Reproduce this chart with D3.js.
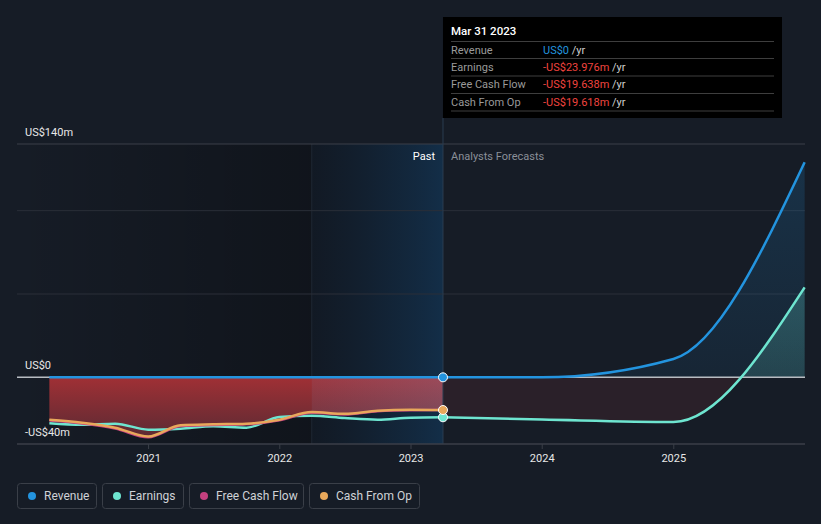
<!DOCTYPE html>
<html><head><meta charset="utf-8">
<script src="https://cdn.jsdelivr.net/npm/d3@7"></script>
<style>
html,body{margin:0;padding:0;background:#161c26;}
svg{display:block;font-family:Roboto,"Noto Sans",sans-serif;}
</style></head>
<body>
<svg id="c" width="821" height="524"></svg>
<script>
// ---- data ----
const pastDates = ["2020-03-31","2020-06-30","2020-09-30","2020-12-31","2021-03-31","2021-06-30","2021-09-30","2021-12-31","2022-03-31","2022-06-30","2022-09-30","2022-12-31","2023-03-31"];
const pastRevenue = [0,0,0,0,0,0,0,0,0,0,0,0,0];
const pastEarnings = [-27.5,-28.4,-27.8,-31.4,-30.8,-29.4,-30.2,-23.8,-23.0,-24.4,-25.4,-24.2,-23.976];
const pastFCF = [-25.9,-27.7,-30.7,-36.0,-29.2,-28.6,-28.2,-25.8,-21.2,-22.3,-20.3,-19.7,-19.638];
const pastCFO = [-25.4,-27.2,-30.2,-35.5,-28.8,-28.2,-27.8,-25.4,-20.8,-21.9,-20.0,-19.4,-19.618];
const fcDates = ["2023-03-31","2023-12-31","2024-12-31","2025-12-31"];
const fcRevenue = [0,0,11,129];
const fcEarnings = [-23.976,-25.3,-26.8,54];
const yTicks = [140,0,-40];
const yTickLabels = ["US$140m","US$0","-US$40m"];
const gridValues = [140,100,50,0,-40];
const xTickYears = [2021,2022,2023,2024,2025];
const seriesNames = ["Revenue","Earnings","Free Cash Flow","Cash From Op"];
const seriesColors = ["#2394df","#6ee5d0","#c4407f","#e8a85b"];
const tipTitle = "Mar 31 2023";
const tipValues = ["US$0","-US$23.976m","-US$19.638m","-US$19.618m"];

// ---- layout ----
const svg = d3.select("#c");
const parse = d3.timeParse("%Y-%m-%d");
const X0 = 17, X1 = 805, YT = 144, YB = 444;
const x = d3.scaleTime().domain([new Date(2020,0,1), new Date(2026,0,1)]).range([X0, X1]);
const y = d3.scaleLinear().domain([-40,140]).range([YB, YT]);
const past = pastDates.map((d,i)=>({d:parse(d),rev:pastRevenue[i],earn:pastEarnings[i],fcf:pastFCF[i],cfo:pastCFO[i]}));
const fc = fcDates.map((d,i)=>({d:parse(d),rev:fcRevenue[i],earn:fcEarnings[i]}));
const xNow = x(parse("2023-03-31"));
const xHl = x(parse("2022-03-31"));

const defs = svg.append("defs");
function lg(id, stops, x1,y1,x2,y2){
  const g = defs.append("linearGradient").attr("id",id).attr("x1",x1).attr("y1",y1).attr("x2",x2).attr("y2",y2);
  stops.forEach(s=>g.append("stop").attr("offset",s[0]).attr("stop-color",s[1]).attr("stop-opacity",s[2]));
}
lg("dark",[["0%","#000",0],["100%","#000",0.28]],"0","0","1","0");
lg("hl",[["0%","#0a1420",0.35],["100%","#10406a",0.5]],"0","0","1","0");
lg("hlo",[["0%","#8898c8",0.10],["100%","#90a0d0",0.24]],"0","0","1","0");
lg("red",[["0%","#a03035",1],["100%","#5c2a33",1]],"0","0","0","1");
lg("blue",[["0%","#2394df",0.18],["100%","#2394df",0.08]],"0","0","0","1");
lg("teal",[["0%","#6ee5d0",0.25],["100%","#6ee5d0",0.12]],"0","0","0","1");
defs.append("clipPath").attr("id","above").append("rect").attr("x",0).attr("y",0).attr("width",821).attr("height",y(0));
defs.append("clipPath").attr("id","below").append("rect").attr("x",0).attr("y",y(0)).attr("width",821).attr("height",524);

// shaded past regions
svg.append("rect").attr("x",X0).attr("y",YT).attr("width",xHl-X0).attr("height",YB-YT).attr("fill","url(#dark)");
svg.append("rect").attr("x",xHl).attr("y",YT).attr("width",xNow-xHl).attr("height",YB-YT).attr("fill","url(#hl)");
svg.append("line").attr("x1",xHl).attr("x2",xHl).attr("y1",YT).attr("y2",YB).attr("stroke","#1e2833").attr("stroke-width",1);

// gridlines
svg.append("g").selectAll("line").data(gridValues).join("line")
  .attr("x1",X0).attr("x2",X1).attr("y1",d=>y(d)).attr("y2",d=>y(d))
  .attr("stroke",d=>(d===140||d===-40)?"#3a3f48":"#2a2f38").attr("stroke-width",1);

const curve = d3.curveMonotoneX;
// past fill (red)
const pastArea = d3.area().curve(curve).x(d=>x(d.d)).y0(y(0)).y1(d=>y(d.fcf));
svg.append("path").datum(past).attr("d",pastArea).attr("fill","url(#red)");
defs.append("clipPath").attr("id","pastclip").append("path").attr("d",pastArea(past));
// lighten in highlight region
svg.append("rect").attr("x",xHl).attr("y",y(0)).attr("width",xNow-xHl).attr("height",YB-y(0))
  .attr("fill","url(#hlo)").attr("clip-path","url(#pastclip)");

// forecast fills
const fcEarnArea = d3.area().curve(curve).x(d=>x(d.d)).y0(y(0)).y1(d=>y(d.earn));
svg.append("path").datum(fc).attr("d",fcEarnArea).attr("fill","#2a2029").attr("clip-path","url(#below)");
svg.append("path").datum(fc).attr("d",fcEarnArea).attr("fill","url(#teal)").attr("clip-path","url(#above)");
svg.append("path").datum(fc)
  .attr("d",d3.area().curve(curve).x(d=>x(d.d)).y0(y(0)).y1(d=>y(d.rev)))
  .attr("fill","url(#blue)").attr("clip-path","url(#above)");

// zero line
svg.append("line").attr("x1",X0).attr("x2",X1).attr("y1",y(0)).attr("y2",y(0)).attr("stroke","#b8bcc2").attr("stroke-width",1.5);

// divider
svg.append("line").attr("x1",xNow).attr("x2",xNow).attr("y1",118).attr("y2",YB).attr("stroke","#2a3d50").attr("stroke-width",1);

// lines
function line(data, acc, color){
  svg.append("path").datum(data)
    .attr("d",d3.line().curve(curve).x(d=>x(d.d)).y(d=>y(acc(d))))
    .attr("fill","none").attr("stroke",color).attr("stroke-width",2.5).attr("stroke-linejoin","round");
}
line(fc, d=>d.earn, seriesColors[1]);
line(fc, d=>d.rev, seriesColors[0]);
line(past, d=>d.earn, seriesColors[1]);
line(past, d=>d.fcf, seriesColors[2]);
line(past, d=>d.cfo, seriesColors[3]);
line(past, d=>d.rev, seriesColors[0]);

// dots at present
const last = past[past.length-1];
[[last.earn,seriesColors[1]],[last.cfo,seriesColors[3]],[last.rev,seriesColors[0]]].forEach(p=>{
  svg.append("circle").attr("cx",xNow).attr("cy",y(p[0])).attr("r",4.5).attr("fill",p[1]).attr("stroke","#fff").attr("stroke-width",1);
});

// y labels
svg.append("g").selectAll("text").data(yTicks).join("text")
  .attr("x",25).attr("y",d=>y(d)-8).attr("fill","#e8e8e8").attr("font-size",11).text((d,i)=>yTickLabels[i]);

// x axis
svg.append("line").attr("x1",X0).attr("x2",X1).attr("y1",YB).attr("y2",YB).attr("stroke","#3a3f48");
const xt = svg.append("g").selectAll("g").data(xTickYears).join("g").attr("transform",d=>`translate(${x(new Date(d,0,1))},${YB})`);
xt.append("line").attr("y1",0).attr("y2",5).attr("stroke","#3a3f48");
xt.append("text").attr("y",18).attr("text-anchor","middle").attr("fill","#e8e8e8").attr("font-size",11).text(d=>d);

// past / forecast labels
svg.append("text").attr("x",xNow-8).attr("y",160).attr("text-anchor","end").attr("fill","#fff").attr("font-size",11).text("Past");
svg.append("text").attr("x",xNow+8).attr("y",160).attr("fill","#8a8f98").attr("font-size",11).text("Analysts Forecasts");

// tooltip
const tip = svg.append("g");
tip.append("rect").attr("x",xNow).attr("y",17).attr("width",339).attr("height",101).attr("fill","#000");
tip.append("text").attr("x",451).attr("y",35).attr("fill","#fff").attr("font-size",11.5).attr("font-weight",500).text(tipTitle);
const rowY = [41.5,58.5,76,93.5,111];
rowY.forEach(v=>tip.append("line").attr("x1",451).attr("x2",774).attr("y1",v).attr("y2",v).attr("stroke","#3e3e3e"));
seriesNames.forEach((n,i)=>{
  const ty = rowY[i]+12;
  tip.append("text").attr("x",451).attr("y",ty).attr("fill","#9a9a9a").attr("font-size",11).text(n);
  const t = tip.append("text").attr("x",543).attr("y",ty).attr("font-size",11);
  t.append("tspan").attr("fill",i===0?"#2394df":"#f0443f").text(tipValues[i]);
  t.append("tspan").attr("fill","#cfcfcf").text(" /yr");
});

// legend
const legW = [80,82,115,111];
let lx = 17;
seriesNames.forEach((n,i)=>{
  const g = svg.append("g").attr("transform",`translate(${lx},483)`);
  g.append("rect").attr("x",0.5).attr("y",0.5).attr("width",legW[i]-1).attr("height",25).attr("rx",3).attr("fill","none").attr("stroke","#3a3f48");
  g.append("circle").attr("cx",15).attr("cy",13).attr("r",4).attr("fill",seriesColors[i]);
  g.append("text").attr("x",27).attr("y",17).attr("fill","#cfd2d6").attr("font-size",12).text(n);
  lx += legW[i]+5;
});
</script>
</body></html>
